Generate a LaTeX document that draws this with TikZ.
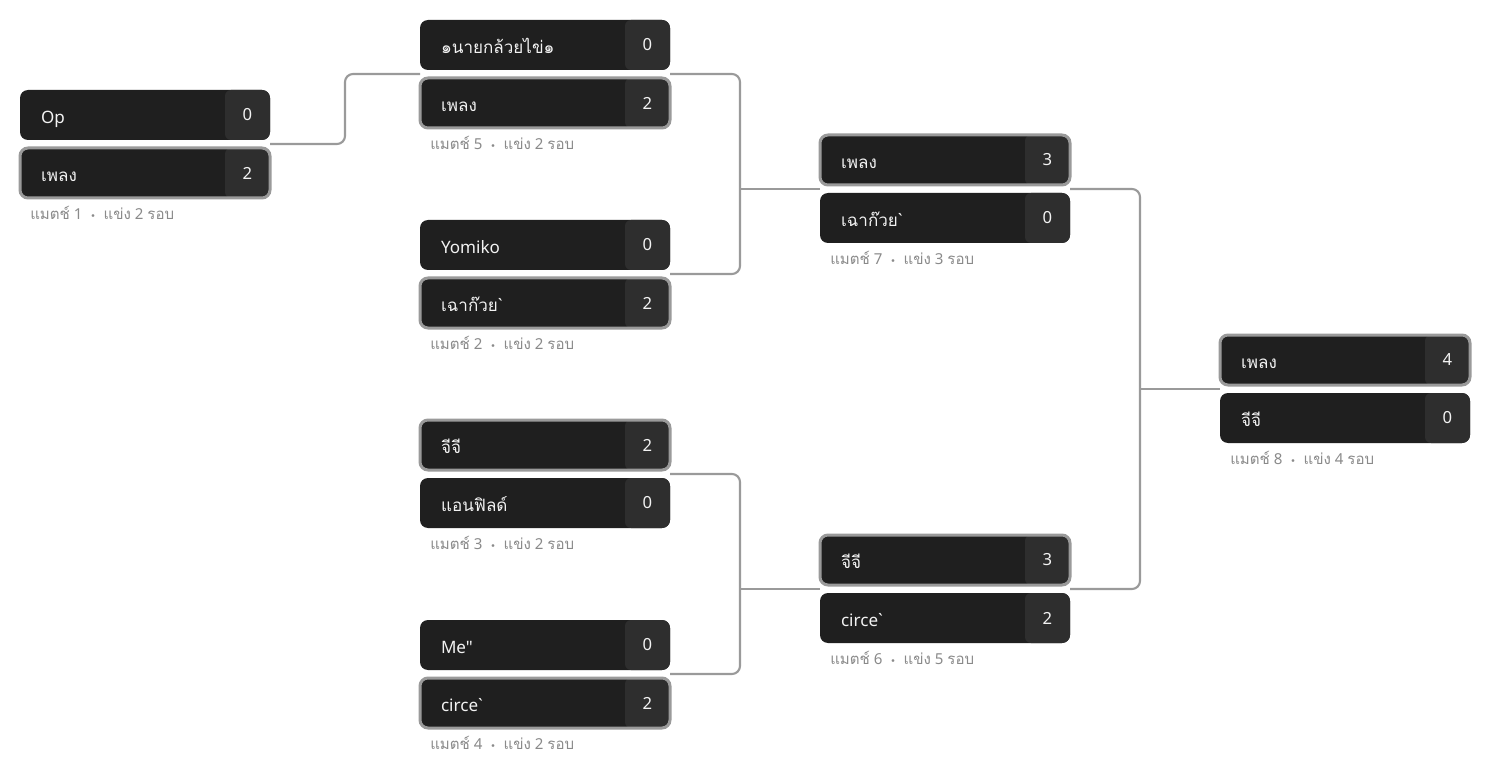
\documentclass[tikz,border=0pt]{standalone}
\usepackage{fontspec}
\setmainfont{Noto Sans}[Ligatures=TeXOff]
\newfontfamily\thai[Script=Thai]{Loma}
\newfontfamily\dotfont{DejaVu Sans}
\usetikzlibrary{calc}
\definecolor{boxbg}{HTML}{1F1F1F}
\definecolor{scorebg}{HTML}{2E2E2E}
\definecolor{wincol}{HTML}{9A9A9A}
\definecolor{linecol}{HTML}{9A9A9A}
\definecolor{infocol}{HTML}{8A8A8A}
\definecolor{namecol}{HTML}{F2F2F2}
\begin{document}
\begin{tikzpicture}[x=0.75pt,y=-0.75pt,
  team/.style={anchor=north west, minimum width=187.5pt, minimum height=37.5pt,
    rounded corners=6pt, fill=boxbg, inner ysep=0pt, inner xsep=15.75pt, outer sep=0pt,
    text width=156pt, text height=12.4pt, text depth=0pt, align=left, text=namecol,
    font=\fontsize{12.8}{15}\selectfont,
    path picture={\fill[scorebg,rounded corners=4.5pt]
      ([xshift=-33.75pt]path picture bounding box.north east) rectangle
      ([xshift=6pt]path picture bounding box.south east);}},
  win/.style={draw=wincol, line width=2.25pt},
  lose/.style={},
  score/.style={text=namecol, font=\fontsize{12.5}{15}\selectfont, inner sep=0pt},
  info/.style={anchor=west, text=infocol, inner sep=0pt, font=\fontsize{11.3}{13}\selectfont},
  link/.style={draw=linecol, line width=1.6pt, rounded corners=6pt}]
 \useasboundingbox[fill=white] (0,0) rectangle (1490,770);
 % matches: id / x / y / team a / score a / team b / score b / style a / style b / rounds
 \foreach \m/\x/\y/\ta/\sa/\tb/\sb/\wa/\wb/\r in {
   1/20/90/Op/0/{\thai เพลง}/2/lose/win/2,
   5/420/20/{\thai ๑นายกล้วยไข่๑}/0/{\thai เพลง}/2/lose/win/2,
   2/420/220/Yomiko/0/{{\thai เฉาก๊วย}`}/2/lose/win/2,
   3/420/420/{\thai จีจี}/2/{\thai แอนฟิลด์}/0/win/lose/2,
   4/420/620/Me"/0/circe`/2/lose/win/2,
   7/820/135/{\thai เพลง}/3/{{\thai เฉาก๊วย}`}/0/win/lose/3,
   6/820/535/{\thai จีจี}/3/circe`/2/win/lose/5,
   8/1220/335/{\thai เพลง}/4/{\thai จีจี}/0/win/lose/4} {
   \node[team,\wa] (m\m a) at (\x,\y) {\ta};
   \node[team,\wb] (m\m b) at (\x,\y+58) {\tb};
   \node[score] at ([xshift=-16.875pt]m\m a.east) {\sa};
   \node[score] at ([xshift=-16.875pt]m\m b.east) {\sb};
   \node[info] (m\m i) at (\x+10,\y+123) {{\thai แมตช์} \m\ \ {\dotfont\fontsize{7}{9}\selectfont •}\ \ {\thai แข่ง} \r\ {\thai รอบ}};
   \coordinate (m\m r) at ($(m\m a.south east)!.5!(m\m b.north east)$);
   \coordinate (m\m l) at ($(m\m a.south west)!.5!(m\m b.north west)$);
 }
 % round 1 to 2
 \draw[link] (m1r) -- ++(75,0) |- (m5l);
 % into match 7 and match 6
 \draw[link] (m5r) -- ++(70,0) |- (m2r);
 \draw[link] (m7l) -- ++(-80,0);
 \draw[link] (m3r) -- ++(70,0) |- (m4r);
 \draw[link] (m6l) -- ++(-80,0);
 % final
 \draw[link] (m7r) -- ++(70,0) |- (m6r);
 \draw[link] (m8l) -- ++(-80,0);
\end{tikzpicture}
\end{document}
